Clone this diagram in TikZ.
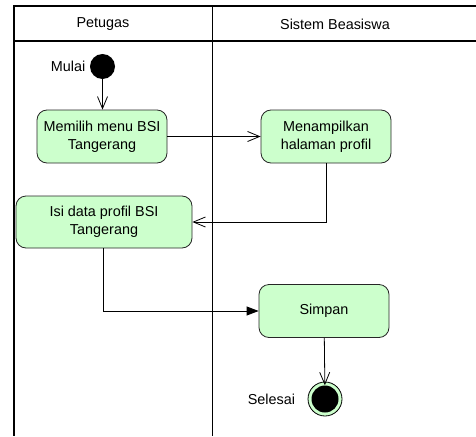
\documentclass[tikz,border=0pt]{standalone}
\usepackage{fontspec}
\setmainfont{Liberation Sans}
\usetikzlibrary{arrows.meta}
\definecolor{hijau}{HTML}{CCFFCC}
\tikzset{
	teks/.style={font=\fontsize{14.4}{17.6}\selectfont},
	aksi/.style={teks, draw=black!85, fill=hijau, rounded corners=10pt, align=center, minimum width=130pt, minimum height=53pt, inner sep=0pt, line width=0.8pt},
	awal/.style={circle, fill=black, minimum size=25pt, inner sep=0pt},
	panah/.style={line width=0.8pt, -{Straight Barb[length=12pt, width=10pt]}},
	panahisi/.style={line width=0.8pt, -{Triangle[length=12pt, width=9pt]}}
}

\begin{document}
\begin{tikzpicture}[x=1pt, y=-1pt]
		\useasboundingbox (0,0) rectangle (476,436);
		
		% swimlane
		\draw[line width=1.2pt] (476,6) -- (14,6) -- (14,436);
		\draw[line width=1.2pt] (14,41) -- (476,41);
		\draw[line width=1pt] (212,6) -- (212,436);
		\node[teks] (petugas) at (103,24) {Petugas};
		\node[teks] (sistem) at (335,24) {Sistem Beasiswa};
		
		\node[awal] (mulai) at (102.5,66.5) {};
		\node[teks, left=1pt] (labelmulai) at (mulai.west) {Mulai};
		
		\node[aksi] (pilih) at (102,136.5) {Memilih menu BSI\\Tangerang};
		\node[aksi] (tampil) at (326,136.5) {Menampilkan\\halaman profil};
		\node[aksi, minimum width=176pt, minimum height=52pt] (isi) at (104,222) {Isi data profil BSI\\Tangerang};
		\node[aksi] (simpan) at (324,311) {Simpan};
		
		\node[circle, draw=black, fill=hijau, minimum size=34pt, inner sep=0pt, line width=0.8pt] (selesai) at (325,399) {};
		\node[circle, fill=black, minimum size=27pt, inner sep=0pt] (intiselesai) at (selesai) {};
		\node[teks, left=9pt] (labelselesai) at (selesai.west) {Selesai};
		
		\draw[panah] (mulai) -- (mulai |- pilih.north);
		\draw[panah] (pilih) -- (tampil);
		\draw[panah] (tampil.south) |- (isi.east);
		\draw[panahisi] ([xshift=-1pt]isi.south) |- (simpan.west);
		\draw[panah] (simpan) -- (intiselesai);
	\end{tikzpicture}
\end{document}
